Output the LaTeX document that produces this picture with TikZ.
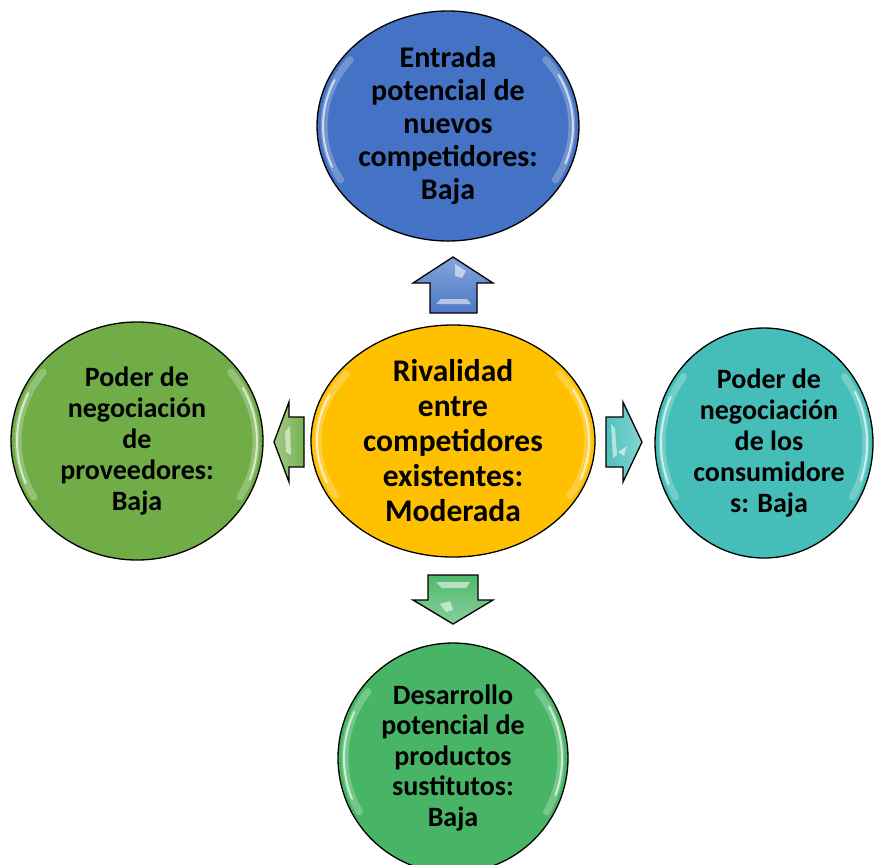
\documentclass[tikz,border=0pt]{standalone}
\usepackage{fontspec}
\setmainfont{Carlito}
\usetikzlibrary{shapes.geometric}
\definecolor{cblue}{HTML}{4472C4}
\definecolor{corange}{HTML}{FFC000}
\definecolor{cgreen}{HTML}{70AD47}
\definecolor{cteal}{HTML}{45BDB8}
\definecolor{cgreentwo}{HTML}{47B565}
\newcommand\mygloss[4]{%
  \draw[glossline] (#1,#2) ++(150:{#3-7} and {#4-7}) arc[start angle=150,end angle=218,x radius={#3-7},y radius={#4-7}];
  \draw[glossline] (#1,#2) ++(-38:{#3-7} and {#4-7}) arc[start angle=-38,end angle=30,x radius={#3-7},y radius={#4-7}];
  \draw[glossthin] (#1,#2) ++(158:{#3-6} and {#4-6}) arc[start angle=158,end angle=205,x radius={#3-6},y radius={#4-6}];
  \draw[glossthin] (#1,#2) ++(-28:{#3-6} and {#4-6}) arc[start angle=-28,end angle=20,x radius={#3-6},y radius={#4-6}];
}
\begin{document}
\begin{tikzpicture}[x=1pt,y=-1pt,
  bubble/.style={ellipse, draw=black, line width=1.3pt, inner sep=0pt, align=center, text=black},
  glossline/.style={white, opacity=0.25, line width=7pt, line cap=round},
  glossthin/.style={white, opacity=0.65, line width=2pt, line cap=round},
  blockarrow/.style={draw=black, line width=1.3pt, line join=miter},
  bevel/.style={white, opacity=0.55}]
\useasboundingbox (0,0) rectangle (876,865);

% circles
\node[bubble, fill=cblue, minimum width=262pt, minimum height=230pt,
  font=\bfseries\fontsize{30}{33}\selectfont] (top) at (448,126)
  {Entrada\\potencial de\\nuevos\\competidores:\\Baja};
\mygloss{448}{126}{131}{115}

\node[bubble, fill=corange, minimum width=284pt, minimum height=232pt,
  font=\bfseries\fontsize{31.5}{35}\selectfont] (center) at (453,441)
  {Rivalidad\\entre\\competidores\\existentes:\\Moderada};
\mygloss{453}{441}{142}{116}

\node[bubble, fill=cgreen, minimum width=252pt, minimum height=238pt,
  font=\bfseries\fontsize{28}{31}\selectfont] (left) at (137,441)
  {Poder de\\negociación\\de\\proveedores:\\Baja};
\mygloss{137}{441}{126}{119}

\node[bubble, fill=cteal, minimum width=218pt, minimum height=230pt] (right) at (764,443) {};
\node[align=center, inner sep=0pt, text=black,
  font=\bfseries\fontsize{28}{31}\selectfont] (righttext) at (769,443)
  {Poder de\\negociación\\de los\\consumidore\\s: Baja};
\mygloss{764}{443}{109}{115}

\node[bubble, fill=cgreentwo, minimum width=230pt, minimum height=230pt,
  font=\bfseries\fontsize{28}{30.5}\selectfont] (bottom) at (453,758)
  {Desarrollo\\potencial de\\productos\\sustitutos:\\Baja};
\mygloss{453}{758}{115}{115}

% block arrows
% up
\path[blockarrow, top color=cblue!65!white, bottom color=cblue!95!white]
  (453,257) -- (493,283) -- (477,283) -- (477,313) -- (430,313) -- (430,283) -- (413,283) -- cycle;
\fill[bevel] (455,264) -- (466,271) -- (462,278) -- (455,276) -- cycle;
\fill[bevel] (436,304) -- (471,304) -- (467,299) -- (441,299) -- cycle;
% left
\path[blockarrow, left color=cgreen!65!white, right color=cgreen!95!white]
  (274,442) -- (289,402) -- (289,417) -- (304,417) -- (304,467) -- (289,467) -- (289,482) -- cycle;
\fill[bevel] (285,432) -- (290,426) -- (291,455) -- (286,452) -- cycle;
% right
\path[blockarrow, left color=cteal!95!white, right color=cteal!65!white]
  (642,442) -- (623,402) -- (623,417) -- (606,417) -- (606,467) -- (623,467) -- (623,482) -- cycle;
\fill[bevel] (611,424) -- (615,428) -- (617,455) -- (613,458) -- cycle;
\fill[bevel] (618,452) -- (627,446) -- (624,456) -- cycle;
% down
\path[blockarrow, top color=cgreentwo!95!white, bottom color=cgreentwo!65!white]
  (453,624) -- (413,600) -- (428,600) -- (428,575) -- (478,575) -- (478,600) -- (493,600) -- cycle;
\fill[bevel] (436,582) -- (470,582) -- (466,588) -- (442,588) -- cycle;
\fill[bevel] (440,604) -- (450,601) -- (453,610) -- (446,612) -- cycle;
\end{tikzpicture}
\end{document}
